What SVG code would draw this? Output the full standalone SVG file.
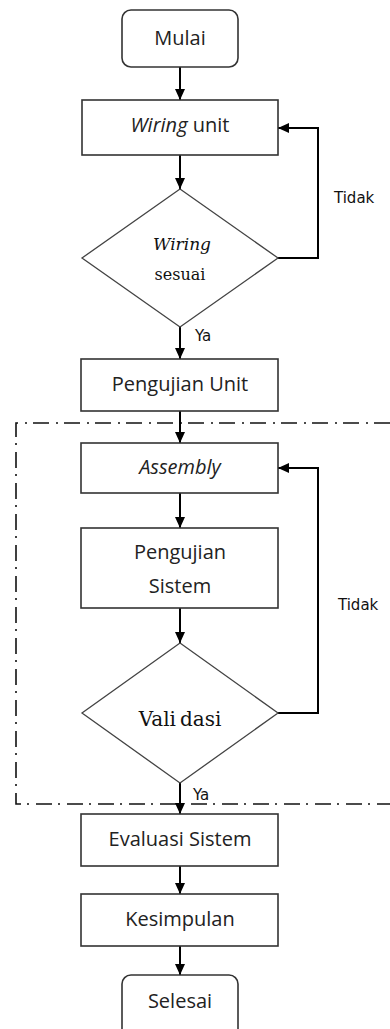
<svg xmlns="http://www.w3.org/2000/svg" width="390" height="1029" viewBox="0 0 390 1029">
  <defs>
    <marker id="arrow" markerWidth="11" markerHeight="10" refX="11" refY="5" orient="auto" markerUnits="userSpaceOnUse">
      <path d="M0,0 L11,5 L0,10 Z" fill="#000"/>
    </marker>
    <style>
      .box { fill: #fff; stroke: #333; stroke-width: 1.6; }
      .dec { fill: #fff; stroke: #444; stroke-width: 1.3; }
      .lbl { font-family: "Open Sans", "Noto Sans", sans-serif; font-size: 20px; fill: #222; text-anchor: middle; }
      .ser { font-family: "DejaVu Serif", "Liberation Serif", serif; fill: #111; text-anchor: middle; }
      .note { font-family: "DejaVu Sans", "Liberation Sans", sans-serif; font-size: 15px; fill: #111; }
      .link { fill: none; stroke: #000; stroke-width: 2; marker-end: url(#arrow); }
      .bound { fill: none; stroke: #111; stroke-width: 1.6; stroke-dasharray: 16 6 2 7; }
    </style>
  </defs>

  <rect width="390" height="1029" fill="#fff"/>

  <!-- dash-dot boundary around the assembly / validation loop -->
  <path class="bound" d="M390,423 H16 V804 H390"/>

  <g id="connectors">
    <path class="link" d="M180,67 V100"/>
    <path class="link" d="M180,155 V189"/>
    <path class="link" d="M278,258 H318 V128 H278"/>
    <path class="link" d="M180,327 V359"/>
    <path class="link" d="M180,411 V443"/>
    <path class="link" d="M180,493 V528"/>
    <path class="link" d="M180,608 V643"/>
    <path class="link" d="M278,713 H318 V468 H278"/>
    <path class="link" d="M180,783 V814"/>
    <path class="link" d="M180,866 V894"/>
    <path class="link" d="M180,946 V975"/>
    <text class="note" x="334" y="203">Tidak</text>
    <text class="note" x="195" y="341">Ya</text>
    <text class="note" x="338" y="610">Tidak</text>
    <text class="note" x="193" y="800">Ya</text>
  </g>

  <g id="mulai">
    <rect class="box" x="122" y="10" width="116" height="57" rx="9"/>
    <text class="lbl" x="180" y="45">Mulai</text>
  </g>

  <g id="wiring-unit">
    <rect class="box" x="82" y="100" width="196" height="55"/>
    <text class="lbl" x="180" y="132"><tspan font-style="italic">Wiring</tspan> unit</text>
  </g>

  <g id="wiring-sesuai">
    <polygon class="dec" points="180,189 278,258 180,327 82,258"/>
    <text class="ser" x="182" y="250" font-size="17" font-style="italic">Wiring</text>
    <text class="ser" x="180" y="280" font-size="16">sesuai</text>
  </g>

  <g id="pengujian-unit">
    <rect class="box" x="81" y="359" width="197" height="52"/>
    <text class="lbl" x="180" y="391">Pengujian Unit</text>
  </g>

  <g id="assembly">
    <rect class="box" x="81" y="443" width="197" height="50"/>
    <text class="lbl" x="180" y="474" font-style="italic">Assembly</text>
  </g>

  <g id="pengujian-sistem">
    <rect class="box" x="81" y="528" width="197" height="80"/>
    <text class="lbl" x="180" y="559">Pengujian</text>
    <text class="lbl" x="180" y="593">Sistem</text>
  </g>

  <g id="validasi">
    <polygon class="dec" points="180,643 278,713 180,783 82,713"/>
    <text class="ser" x="180" y="726" font-size="20">Vali<tspan dx="4">dasi</tspan></text>
  </g>

  <g id="evaluasi-sistem">
    <rect class="box" x="81" y="814" width="197" height="52"/>
    <text class="lbl" x="180" y="846">Evaluasi Sistem</text>
  </g>

  <g id="kesimpulan">
    <rect class="box" x="81" y="894" width="197" height="52"/>
    <text class="lbl" x="180" y="926">Kesimpulan</text>
  </g>

  <g id="selesai">
    <rect class="box" x="122" y="975" width="116" height="66" rx="9"/>
    <text class="lbl" x="180" y="1008">Selesai</text>
  </g>
</svg>
